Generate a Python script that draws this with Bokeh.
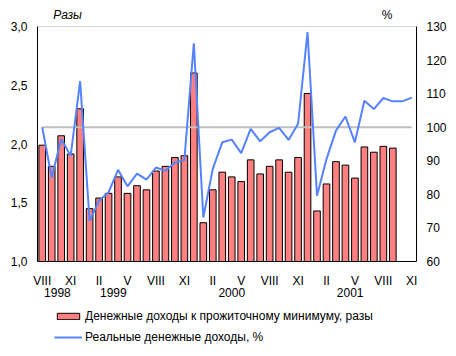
from bokeh.plotting import figure
from bokeh.models import (Range1d, LinearAxis, FixedTicker, Legend, LegendItem,
                          Label, ColumnDataSource)
from bokeh.embed import file_html
from bokeh.resources import INLINE

# ---- data ----
month_index = list(range(40))          # Aug 1998 .. Nov 2001
month_ticks = [0, 3, 6, 9, 12, 15, 18, 21, 24, 27, 30, 33, 36, 39]
month_labels = ["VIII", "XI", "II", "V", "VIII", "XI", "II", "V",
                "VIII", "XI", "II", "V", "VIII", "XI"]
year_positions = [1.6, 7.5, 20.0, 32.5]
year_labels = ["1998", "1999", "2000", "2001"]

ratio_values = [1.99, 1.81, 2.07, 1.915, 2.30, 1.45, 1.54, 1.58, 1.72, 1.58,
                1.645, 1.61, 1.77, 1.81, 1.885, 1.90, 2.605, 1.33, 1.61, 1.76,
                1.72, 1.68, 1.865, 1.745, 1.81, 1.865, 1.76, 1.885, 2.43, 1.43,
                1.66, 1.85, 1.82, 1.71, 1.975, 1.93, 1.98, 1.965]
real_income = [100.0, 85.0, 96.5, 91.5, 113.7, 72.1, 78.1, 80.6, 87.3, 82.4,
               86.2, 84.4, 88.0, 87.0, 89.5, 90.2, 125.0, 73.1, 87.6, 95.5,
               96.3, 92.3, 99.5, 95.8, 98.5, 99.8, 96.2, 101.0, 128.3, 79.6,
               90.5, 99.0, 103.2, 95.5, 107.9, 105.4, 108.7, 107.7, 107.7, 108.8]

left_ticks = [1.0, 1.5, 2.0, 2.5, 3.0]
left_tick_labels = ["1,0", "1,5", "2,0", "2,5", "3,0"]
right_ticks = [60, 70, 80, 90, 100, 110, 120, 130]
reference_level = 100

series_names = ["Денежные доходы к прожиточному минимуму, разы",
                "Реальные денежные доходы, %"]
unit_left, unit_right = "Разы", "%"

FONT = "Liberation Sans"

# axis extents (data) and the surrounding canvas margins expressed in data units
X_LO, X_HI = -0.5, 39.5
Y_LO, Y_HI = 1.0, 3.0
P_LO, P_HI = 60, 130

bar_src = ColumnDataSource(dict(x=month_index[:len(ratio_values)], top=ratio_values))
line_src = ColumnDataSource(dict(x=month_index, y=real_income))

p = figure(frame_width=450, frame_height=350,
           x_range=Range1d(-4.405, 43.088), y_range=Range1d(0.2426, 3.2213),
           output_backend="svg", toolbar_location=None, min_border=0)
p.extra_y_ranges = {"pct": Range1d(33.49, 137.745)}

p.grid.visible = False
p.outline_line_color = None
p.background_fill_color = "white"
p.border_fill_color = "white"

bars = p.vbar(x="x", top="top", bottom=Y_LO, width=0.7, source=bar_src,
              fill_color="#FF8080", line_color="black", line_width=1)
p.line(x=[month_index[0], month_index[-1]], y=[reference_level, reference_level],
       y_range_name="pct", line_color="#BFBFBF", line_width=2)
line = p.line(x="x", y="y", source=line_src, y_range_name="pct",
              line_color="#5582FF", line_width=2)


def style_axis(ax, standoff):
    ax.major_tick_out = 0
    ax.major_tick_in = 0
    ax.minor_tick_out = 0
    ax.minor_tick_in = 0
    ax.major_label_standoff = standoff
    ax.major_label_text_font = FONT
    ax.major_label_text_font_size = "12px"
    ax.major_label_text_color = "black"


# left axis
ya = p.yaxis[0]
ya.ticker = FixedTicker(ticks=left_ticks)
ya.major_label_overrides = {t: s for t, s in zip(left_ticks, left_tick_labels)}
ya.fixed_location = X_LO
ya.bounds = (Y_LO, Y_HI)
ya.axis_line_color = "black"
style_axis(ya, 10)

# right axis
ra = LinearAxis(y_range_name="pct", ticker=FixedTicker(ticks=right_ticks),
                fixed_location=X_HI, bounds=(P_LO, P_HI))
ra.axis_line_color = "black"
style_axis(ra, 10)
p.add_layout(ra, "right")

# x axis (months)
xa = p.xaxis[0]
xa.ticker = FixedTicker(ticks=month_ticks)
xa.major_label_overrides = {t: s for t, s in zip(month_ticks, month_labels)}
xa.fixed_location = Y_LO
xa.bounds = (X_LO, X_HI)
xa.axis_line_color = "black"
style_axis(xa, 12)

# x axis (years)
yr = LinearAxis(ticker=FixedTicker(ticks=year_positions),
                fixed_location=Y_LO, bounds=(X_LO, X_HI))
yr.major_label_overrides = {t: s for t, s in zip(year_positions, year_labels)}
yr.axis_line_color = None
style_axis(yr, 26)
p.add_layout(yr, "below")

# top frame line
top = LinearAxis(ticker=FixedTicker(ticks=[]), fixed_location=Y_HI, bounds=(X_LO, X_HI))
top.axis_line_color = "#D9D9D9"
style_axis(top, 0)
p.add_layout(top, "above")

# unit captions
p.add_layout(Label(x=2.67, y=3.094, text=unit_left,
                   text_font=FONT, text_font_size="12px", text_font_style="italic",
                   text_align="center", text_baseline="middle", text_color="black"))
p.add_layout(Label(x=36.4, y=3.094, text=unit_right,
                   text_font=FONT, text_font_size="12px",
                   text_align="center", text_baseline="middle", text_color="black"))

legend = Legend(items=[LegendItem(label=series_names[0], renderers=[bars]),
                       LegendItem(label=series_names[1], renderers=[line])],
                location=(54, 6), orientation="vertical",
                glyph_width=28, glyph_height=8, label_height=15, spacing=6,
                label_standoff=3, padding=0, margin=0,
                border_line_color=None, background_fill_alpha=0,
                label_text_font=FONT, label_text_font_size="12px",
                label_text_color="black")
p.add_layout(legend, "center")

open("out.html", "w").write(file_html(p, INLINE))
